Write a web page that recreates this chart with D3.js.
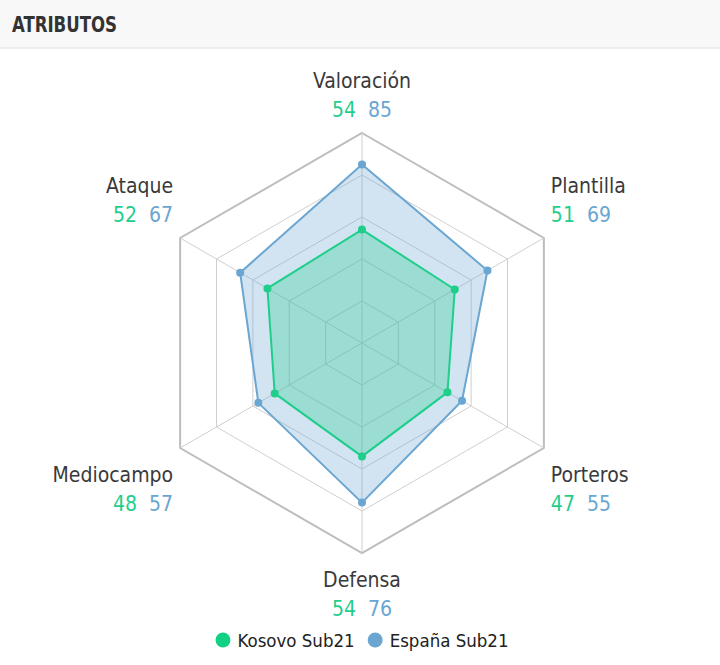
<!DOCTYPE html>
<html>
<head>
<meta charset="utf-8">
<script src="https://cdn.jsdelivr.net/npm/d3@7"></script>
<style>
  body { margin: 0; background: #fff; }
  .canvas { width: 720px; height: 665px; }
</style>
</head>
<body>
<div class="canvas"></div>
<script>
// Data
const axesNames = ['Valoración', 'Plantilla', 'Porteros', 'Defensa', 'Mediocampo', 'Ataque'];
const kosovo = [54, 51, 47, 54, 48, 52];
const espana = [85, 69, 55, 76, 57, 67];
const seriesNames = ['Kosovo Sub21', 'España Sub21'];
const gridLevels = [20, 40, 60, 80, 100];

const green = '#1fce8b';
const blue = '#6aa6d1';
const labelFont = '"DejaVu Sans Condensed", Lato, sans-serif';

const svg = d3.select('.canvas')
                .append('svg')
                .attr('width', 720)
                .attr('height', 665);

// Header band
svg.append('rect')
    .attr('width', 720)
    .attr('height', 48)
    .attr('fill', '#f8f8f8');
svg.append('line')
    .attr('x1', 0).attr('x2', 720)
    .attr('y1', 48).attr('y2', 48)
    .attr('stroke', '#ededed')
    .attr('stroke-width', 2);
svg.append('text')
    .attr('x', 12)
    .attr('y', 32)
    .attr('font-family', labelFont)
    .attr('font-weight', 'bold')
    .attr('font-size', 22)
    .attr('textLength', 105)
    .attr('lengthAdjust', 'spacingAndGlyphs')
    .attr('fill', '#333')
    .text('ATRIBUTOS');

const cx = 362, cy = 343;
const r = d3.scaleLinear().domain([0, 100]).range([0, 210]);
const angle = d3.scalePoint().domain(d3.range(axesNames.length + 1)).range([0, 2 * Math.PI]);

const graph = svg.append('g')
                    .attr('transform', `translate(${cx}, ${cy})`);

const pt = (i, v) => [Math.sin(angle(i)) * r(v), -Math.cos(angle(i)) * r(v)];

// Grid hexagons
const radial = d3.lineRadial()
                    .angle((d, i) => angle(i))
                    .radius(d => r(d))
                    .curve(d3.curveLinearClosed);

graph.selectAll('.grid')
        .data(gridLevels)
        .enter()
        .append('path')
        .attr('d', lvl => radial(axesNames.map(() => lvl)))
        .attr('fill', 'none')
        .attr('stroke', lvl => lvl === 100 ? '#bdbdbd' : '#cfcfcf')
        .attr('stroke-width', lvl => lvl === 100 ? 2 : 1);

// Spokes
graph.selectAll('.spoke')
        .data(axesNames)
        .enter()
        .append('line')
        .attr('x1', 0).attr('y1', 0)
        .attr('x2', (d, i) => pt(i, 100)[0])
        .attr('y2', (d, i) => pt(i, 100)[1])
        .attr('stroke', '#cfcfcf')
        .attr('stroke-width', 1);

// Series areas
const series = [
    { name: seriesNames[1], values: espana, color: blue, fill: 'rgba(106,166,209,0.3)' },
    { name: seriesNames[0], values: kosovo, color: green, fill: 'rgba(31,206,139,0.3)' }
];

series.forEach(s => {
    graph.append('path')
        .attr('d', radial(s.values))
        .attr('fill', s.fill)
        .attr('stroke', s.color)
        .attr('stroke-width', 2);
    graph.selectAll(null)
        .data(s.values)
        .enter()
        .append('circle')
        .attr('cx', (d, i) => pt(i, d)[0])
        .attr('cy', (d, i) => pt(i, d)[1])
        .attr('r', 4)
        .attr('fill', s.color);
});

// Axis labels with values
axesNames.forEach((name, i) => {
    const [vx, vy] = pt(i, 100);
    const s = Math.sin(angle(i));
    const anchor = Math.abs(s) < 0.01 ? 'middle' : (s > 0 ? 'start' : 'end');
    const dx = Math.abs(s) < 0.01 ? 0 : (s > 0 ? 7 : -7);
    const top = vy < 0;
    const y1 = top ? vy - 45 : vy + 34;
    const y2 = top ? vy - 16 : vy + 63;

    graph.append('text')
        .attr('x', vx + dx)
        .attr('y', y1)
        .attr('text-anchor', anchor)
        .attr('font-family', labelFont)
        .attr('font-size', 21)
        .attr('fill', '#3a3a3a')
        .text(name);

    const vals = graph.append('text')
        .attr('x', vx + dx)
        .attr('y', y2)
        .attr('text-anchor', anchor)
        .attr('font-family', labelFont)
        .attr('font-size', 21);
    vals.append('tspan').attr('fill', green).text(kosovo[i]);
    vals.append('tspan').attr('fill', blue).attr('dx', 12).text(espana[i]);
});

// Legend, centred under the chart
const legend = svg.append('g');
let lx = 0;
seriesNames.forEach((name, i) => {
    const item = legend.append('g').attr('transform', `translate(${lx}, 0)`);
    item.append('circle')
        .attr('cx', 7.5)
        .attr('r', 7.5)
        .attr('fill', i === 0 ? '#13d183' : blue);
    const t = item.append('text')
        .attr('x', 22)
        .attr('y', 7)
        .attr('font-family', labelFont)
        .attr('font-size', 18.5)
        .attr('fill', '#222')
        .text(name);
    lx += 22 + t.node().getComputedTextLength() + 13;
});
const legendWidth = lx - 13;
legend.attr('transform', `translate(${cx - legendWidth / 2}, 640)`);
</script>
</body>
</html>
